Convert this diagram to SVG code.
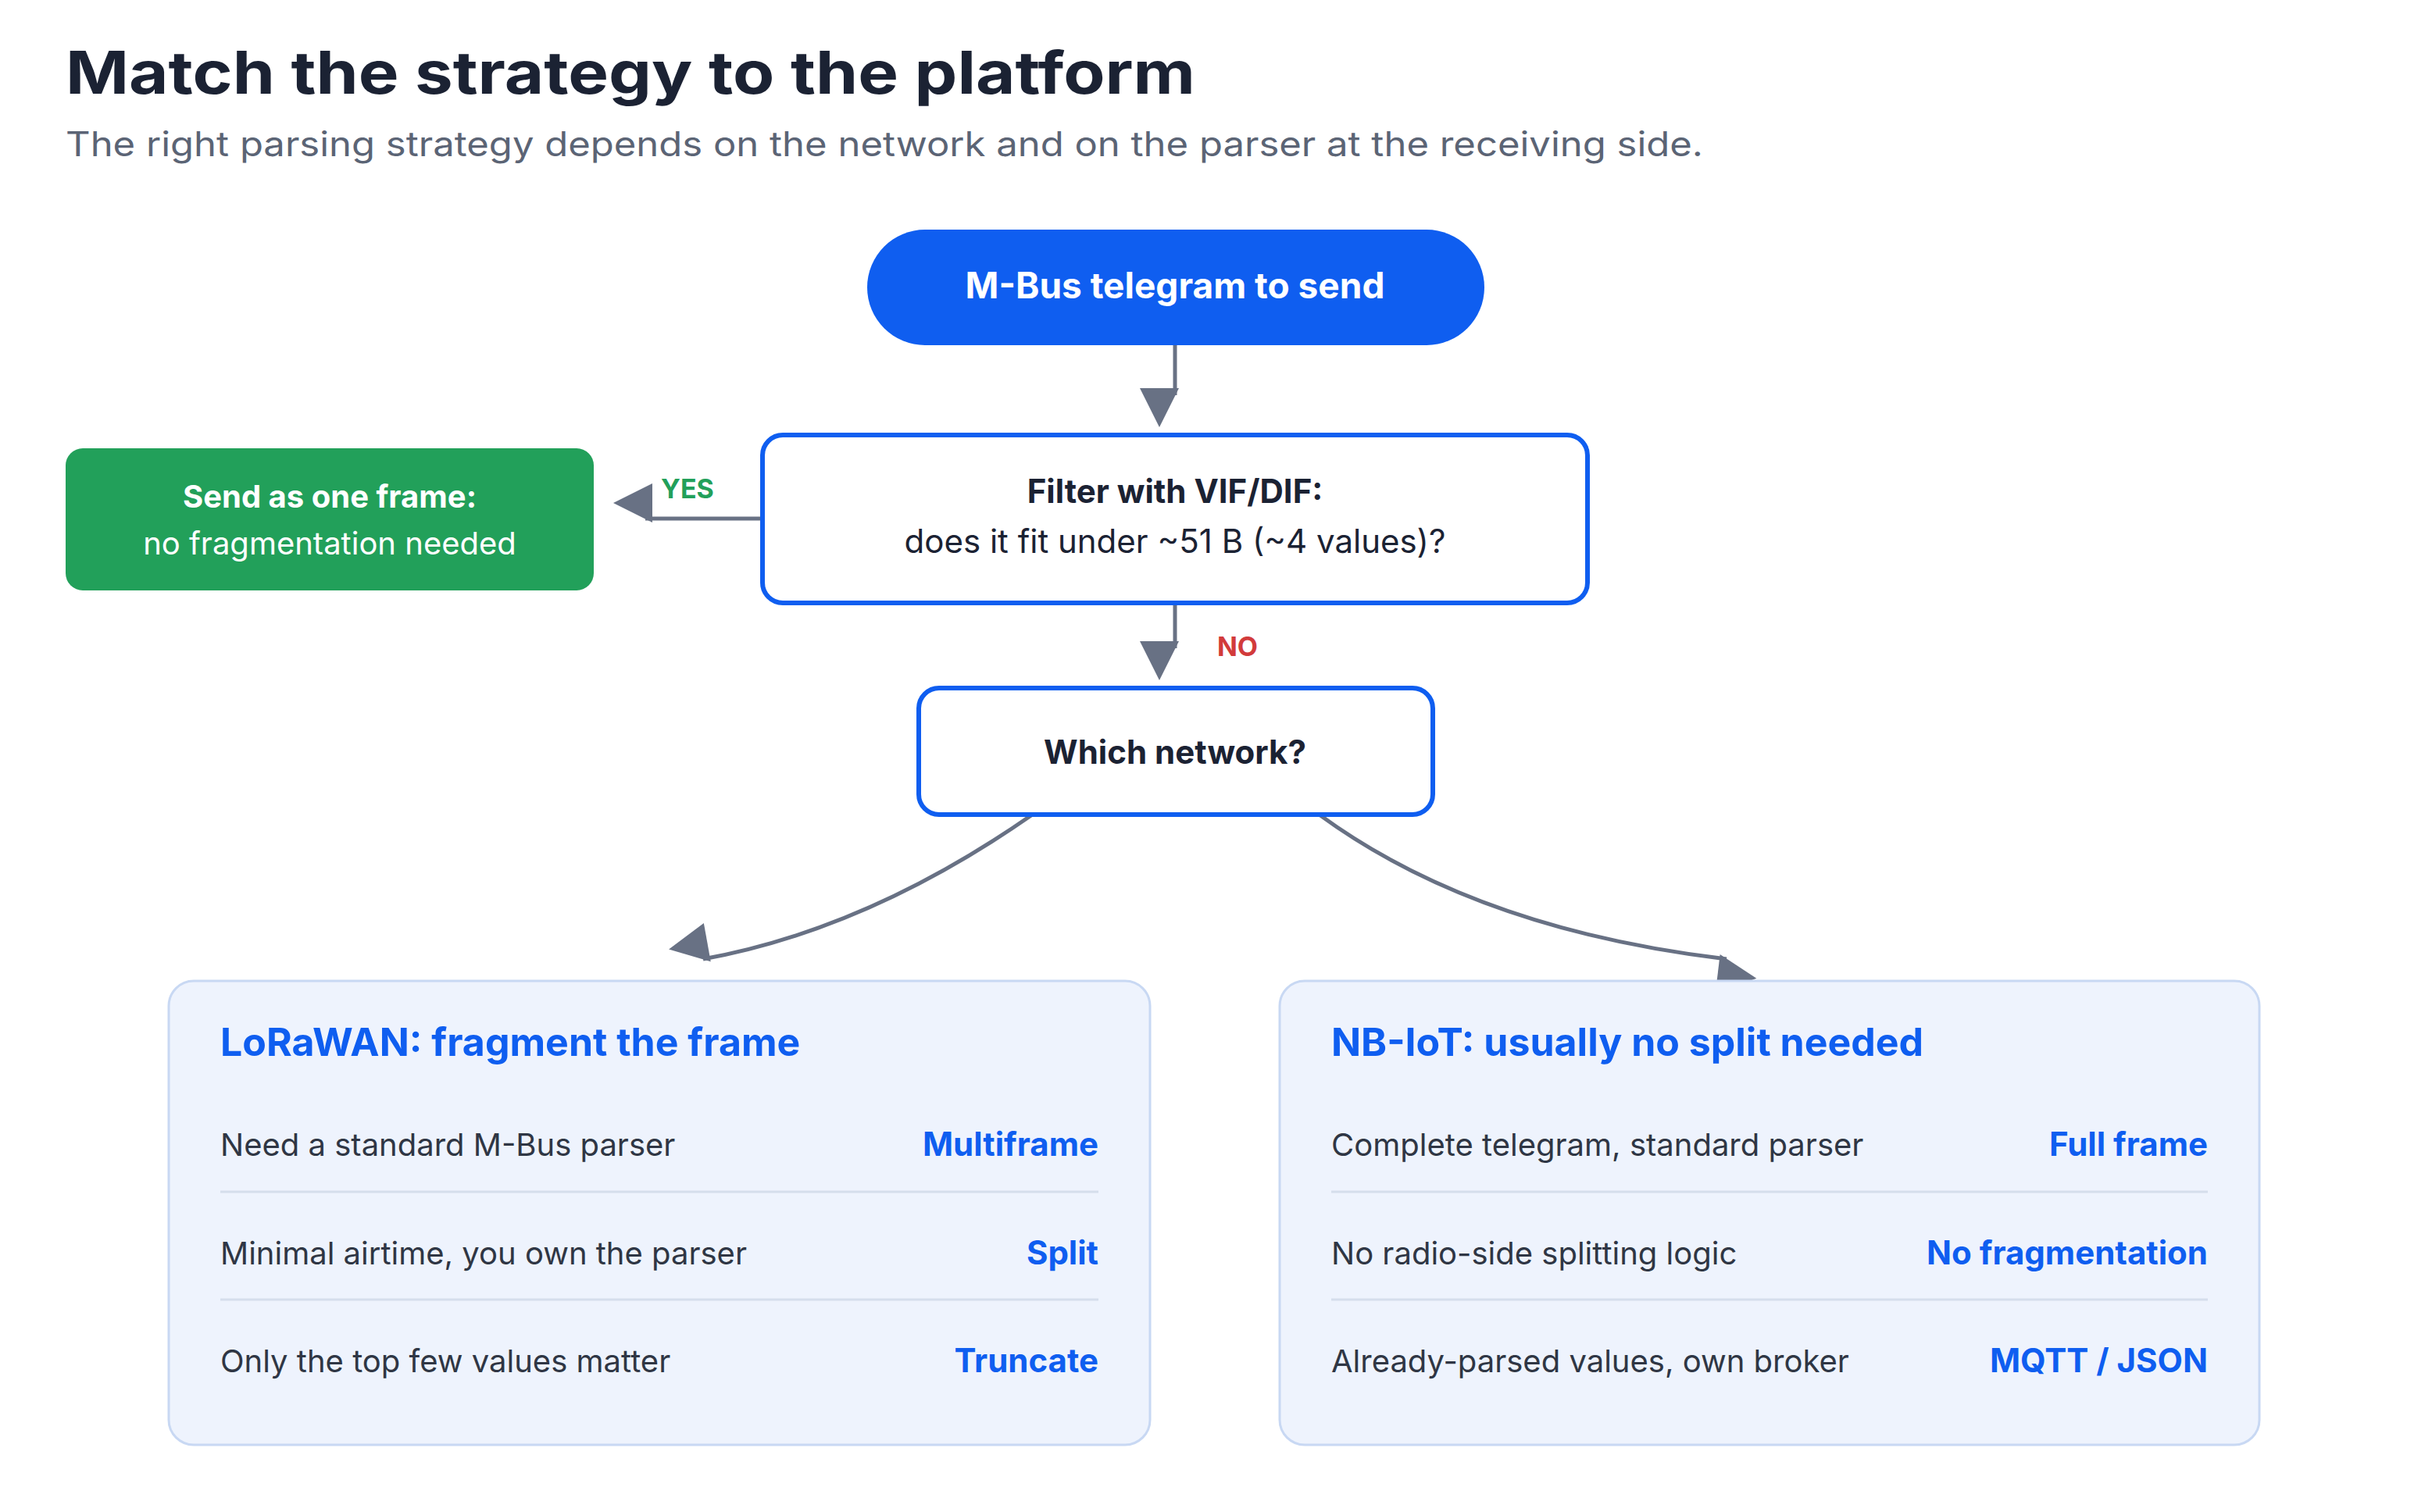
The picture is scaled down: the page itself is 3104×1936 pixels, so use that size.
<svg xmlns="http://www.w3.org/2000/svg" width="3104" height="1936" viewBox="0 0 3104 1936">
<style>
text{font-family:Inter,"Liberation Sans",sans-serif}
.b{font-weight:700}
.c{text-anchor:middle}
.e{text-anchor:end}
.con{stroke:#687184;stroke-width:5;fill:none}
.panel{fill:#eef3fd;stroke:#c8d8f3;stroke-width:3}
.sep{stroke:#d5deec;stroke-width:3}
.row{font-size:40px;fill:#2f3644}
.val{font-size:42px;fill:#0f5ef0;font-weight:700}
</style>
<defs>
<marker id="ah" viewBox="0 0 10 10" refX="9" refY="5" markerWidth="10" markerHeight="10" markerUnits="userSpaceOnUse" orient="auto" style="overflow:visible">
<path d="M0,0 L10,5 L0,10 Z" fill="#687184" transform="scale(5)"/>
</marker>
</defs>
<rect width="3104" height="1936" fill="#fff"/>
<text x="84" y="120" class="b" font-size="76" fill="#1b2233" textLength="1446" lengthAdjust="spacingAndGlyphs">Match the strategy to the platform</text>
<text x="84" y="200" font-size="44" fill="#5b6475" textLength="2096" lengthAdjust="spacingAndGlyphs">The right parsing strategy depends on the network and on the parser at the receiving side.</text>
<g id="connectors">
<path class="con" d="M1504 442 V506" marker-end="url(#ah)"/>
<path class="con" d="M974 664 H826" marker-end="url(#ah)"/>
<path class="con" d="M1504 774 V830" marker-end="url(#ah)"/>
<path class="con" d="M1320 1044 Q1110 1190 900 1228" marker-end="url(#ah)"/>
<path class="con" d="M1690 1044 Q1890 1190 2210 1228" marker-end="url(#ah)"/>
<text x="880" y="638" class="b c" font-size="34" fill="#22a05a">YES</text>
<text x="1584" y="840" class="b c" font-size="34" fill="#d23b3b">NO</text>
</g>
<g id="start">
<rect x="1110" y="294" width="790" height="148" rx="74" fill="#0f5ef0"/>
<text x="1504" y="382" class="b c" font-size="46" fill="#fff">M-Bus telegram to send</text>
</g>
<g id="filter">
<rect x="976" y="557" width="1056" height="215" rx="26" fill="#fff" stroke="#0f5ef0" stroke-width="6"/>
<text x="1504" y="644" class="b c" font-size="42" fill="#1b2233">Filter with VIF/DIF:</text>
<text x="1504" y="708" class="c" font-size="42" fill="#1b2233">does it fit under ~51 B (~4 values)?</text>
</g>
<g id="single">
<rect x="84" y="574" width="676" height="182" rx="22" fill="#22a05a"/>
<text x="422" y="650" class="b c" font-size="40" fill="#fff">Send as one frame:</text>
<text x="422" y="710" class="c" font-size="40" fill="#fff">no fragmentation needed</text>
</g>
<g id="network">
<rect x="1176" y="881" width="658" height="162" rx="26" fill="#fff" stroke="#0f5ef0" stroke-width="6"/>
<text x="1504" y="978" class="b c" font-size="42" fill="#1b2233">Which network?</text>
</g>
<g id="lorawan">
<rect x="216" y="1256" width="1256" height="594" rx="32" class="panel"/>
<text x="282" y="1352" class="b" font-size="50" fill="#0f5ef0">LoRaWAN: fragment the frame</text>
<text x="282" y="1480" class="row">Need a standard M-Bus parser</text>
<text x="1406" y="1480" class="val e">Multiframe</text>
<line x1="282" y1="1526" x2="1406" y2="1526" class="sep"/>
<text x="282" y="1619" class="row">Minimal airtime, you own the parser</text>
<text x="1406" y="1619" class="val e">Split</text>
<line x1="282" y1="1664" x2="1406" y2="1664" class="sep"/>
<text x="282" y="1757" class="row">Only the top few values matter</text>
<text x="1406" y="1757" class="val e">Truncate</text>
</g>
<g id="nbiot">
<rect x="1638" y="1256" width="1254" height="594" rx="32" class="panel"/>
<text x="1704" y="1352" class="b" font-size="50" fill="#0f5ef0">NB-IoT: usually no split needed</text>
<text x="1704" y="1480" class="row">Complete telegram, standard parser</text>
<text x="2826" y="1480" class="val e">Full frame</text>
<line x1="1704" y1="1526" x2="2826" y2="1526" class="sep"/>
<text x="1704" y="1619" class="row">No radio-side splitting logic</text>
<text x="2826" y="1619" class="val e">No fragmentation</text>
<line x1="1704" y1="1664" x2="2826" y2="1664" class="sep"/>
<text x="1704" y="1757" class="row">Already-parsed values, own broker</text>
<text x="2826" y="1757" class="val e">MQTT / JSON</text>
</g>
</svg>
